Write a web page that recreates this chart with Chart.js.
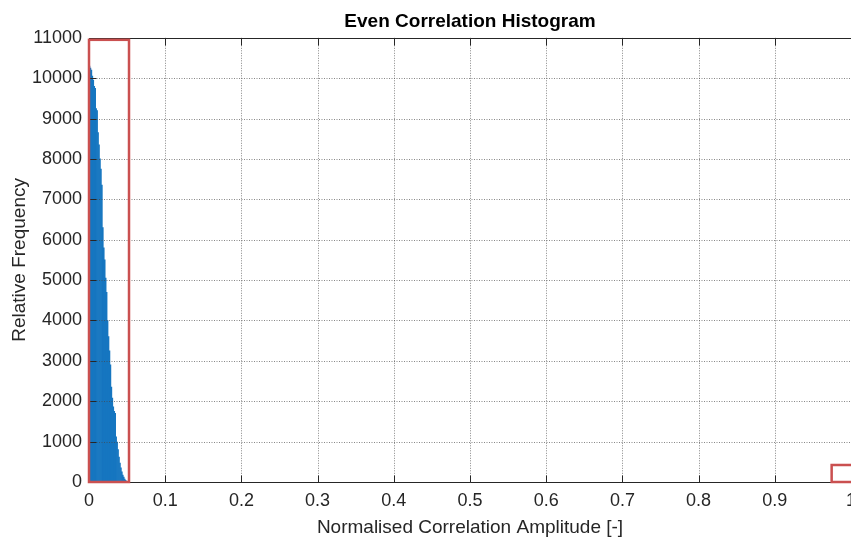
<!DOCTYPE html>
<html>
<head>
<meta charset="utf-8">
<script src="https://cdn.jsdelivr.net/npm/chart.js@4/dist/chart.umd.min.js"></script>
<style>
  html, body { margin: 0; padding: 0; background: #fff; overflow: hidden; }
  #wrap { width: 851px; height: 538px; }
</style>
</head>
<body>
<div id="wrap"><canvas id="c" width="851" height="538"></canvas></div>
<script>
// Histogram of normalised correlation amplitudes (bin width 0.00125, starting at 0)
const binWidth = 0.00125;
const binCounts = [
  10300, 10250, 10200, 10050, 9950, 9800, 9750, 9250, 9200, 8650,
  8350, 8000, 7750, 7350, 6300, 5800, 5500, 5050, 4700, 4000,
  3600, 3250, 2900, 2350, 2080, 1860, 1750, 1700, 1120, 990,
  800, 620, 470, 350, 250, 170, 120, 75, 40, 15
];
const binCenters = binCounts.map((_, i) => (i + 0.5) * binWidth);

// Axis ticks
const xTickValues = [0, 0.1, 0.2, 0.3, 0.4, 0.5, 0.6, 0.7, 0.8, 0.9, 1];
const xTickLabels = ['0', '0.1', '0.2', '0.3', '0.4', '0.5', '0.6', '0.7', '0.8', '0.9', '1'];
const yTickValues = [0, 1000, 2000, 3000, 4000, 5000, 6000, 7000, 8000, 9000, 10000, 11000];
const yTickLabels = ['0', '1000', '2000', '3000', '4000', '5000', '6000', '7000', '8000', '9000', '10000', '11000'];

// Highlighted regions, in data coordinates [xMin, xMax, yMin, yMax]
const highlightRegions = [
  [0, 0.0525, 0, 10950],
  [0.9746, 1.01, 0, 421]
];

const FONT = '"Liberation Sans", Arial, Helvetica, sans-serif';
const TEXT = '#262626';

// Grid, box, inward ticks and highlight rectangles drawn over the bars
const axesOverlay = {
  id: 'axesOverlay',
  afterDatasetsDraw(chart) {
    const { ctx, chartArea: a, scales: { x, y } } = chart;
    ctx.save();

    // dotted grid
    ctx.strokeStyle = 'rgba(70,70,70,0.65)';
    ctx.lineWidth = 1;
    ctx.setLineDash([1, 1.5]);
    ctx.beginPath();
    yTickValues.forEach(v => {
      if (v <= y.min || v >= y.max) return;
      const py = Math.round(y.getPixelForValue(v)) + 0.5;
      ctx.moveTo(a.left, py); ctx.lineTo(a.right, py);
    });
    xTickValues.forEach(v => {
      if (v <= x.min || v >= x.max) return;
      const px = Math.round(x.getPixelForValue(v)) + 0.5;
      ctx.moveTo(px, a.top); ctx.lineTo(px, a.bottom);
    });
    ctx.stroke();
    ctx.setLineDash([]);

    // axes box
    ctx.strokeStyle = TEXT;
    ctx.lineWidth = 1;
    const L = Math.round(a.left) + 0.5, T = Math.round(a.top) + 0.5, B = Math.round(a.bottom) + 0.5;
    ctx.beginPath();
    ctx.moveTo(L, T); ctx.lineTo(a.right, T);
    ctx.moveTo(L, B); ctx.lineTo(a.right, B);
    ctx.moveTo(L, T); ctx.lineTo(L, B);
    // inward tick marks
    const tl = 7;
    yTickValues.forEach(v => {
      const py = Math.round(y.getPixelForValue(v)) + 0.5;
      ctx.moveTo(L, py); ctx.lineTo(L + tl, py);
    });
    xTickValues.forEach(v => {
      const px = Math.round(x.getPixelForValue(v)) + 0.5;
      ctx.moveTo(px, B); ctx.lineTo(px, B - tl);
      ctx.moveTo(px, T); ctx.lineTo(px, T + tl);
    });
    ctx.stroke();

    // highlight rectangles
    ctx.strokeStyle = 'rgb(202,80,80)';
    ctx.lineWidth = 2.5;
    highlightRegions.forEach(([x0, x1, y0, y1]) => {
      const px0 = x.getPixelForValue(x0), px1 = x.getPixelForValue(x1);
      const py0 = y.getPixelForValue(y0), py1 = y.getPixelForValue(y1);
      ctx.strokeRect(px0, py1, px1 - px0, py0 - py1);
    });
    ctx.restore();
  }
};

new Chart(document.getElementById('c'), {
  type: 'bar',
  data: {
    datasets: [{
      data: binCenters.map((c, i) => ({ x: c, y: binCounts[i] })),
      backgroundColor: 'rgb(22,118,192)',
      borderWidth: 0,
      barPercentage: 1,
      categoryPercentage: 1
    }]
  },
  options: {
    responsive: false,
    animation: false,
    events: [],
    layout: { padding: 0 },
    plugins: {
      legend: { display: false },
      tooltip: { enabled: false },
      title: {
        display: true,
        fullSize: false,
        text: 'Even Correlation Histogram',
        color: '#000',
        font: { family: FONT, size: 19, weight: 'bold', lineHeight: 1.2 },
        padding: { top: 10, bottom: 5 }
      }
    },
    scales: {
      x: {
        type: 'linear',
        offset: false,
        min: 0,
        max: 1,
        grid: { display: false, drawTicks: false },
        border: { display: false },
        afterBuildTicks: s => { s.ticks = xTickValues.map(v => ({ value: v })); },
        afterFit: s => { s.height = 56; s.paddingLeft = 0; s.paddingRight = 0; },
        ticks: {
          autoSkip: false,
          maxRotation: 0,
          padding: 8,
          color: TEXT,
          font: { family: FONT, size: 18 },
          callback: (v, i) => xTickLabels[i]
        },
        title: {
          display: true,
          text: 'Normalised Correlation Amplitude [-]',
          color: TEXT,
          font: { family: FONT, size: 19, lineHeight: 1.1 },
          padding: { top: 0, bottom: 0 }
        }
      },
      y: {
        min: 0,
        max: 11000,
        grid: { display: false, drawTicks: false },
        border: { display: false },
        afterBuildTicks: s => { s.ticks = yTickValues.map(v => ({ value: v })); },
        afterFit: s => { s.width = 89; s.paddingTop = 0; s.paddingBottom = 0; },
        ticks: {
          autoSkip: false,
          padding: 7,
          color: TEXT,
          font: { family: FONT, size: 18 },
          callback: (v, i) => yTickLabels[i]
        },
        title: {
          display: true,
          text: 'Relative Frequency',
          color: TEXT,
          font: { family: FONT, size: 19, lineHeight: 1.2 },
          padding: { top: 8, bottom: 0 }
        }
      }
    }
  },
  plugins: [axesOverlay]
});
</script>
</body>
</html>
